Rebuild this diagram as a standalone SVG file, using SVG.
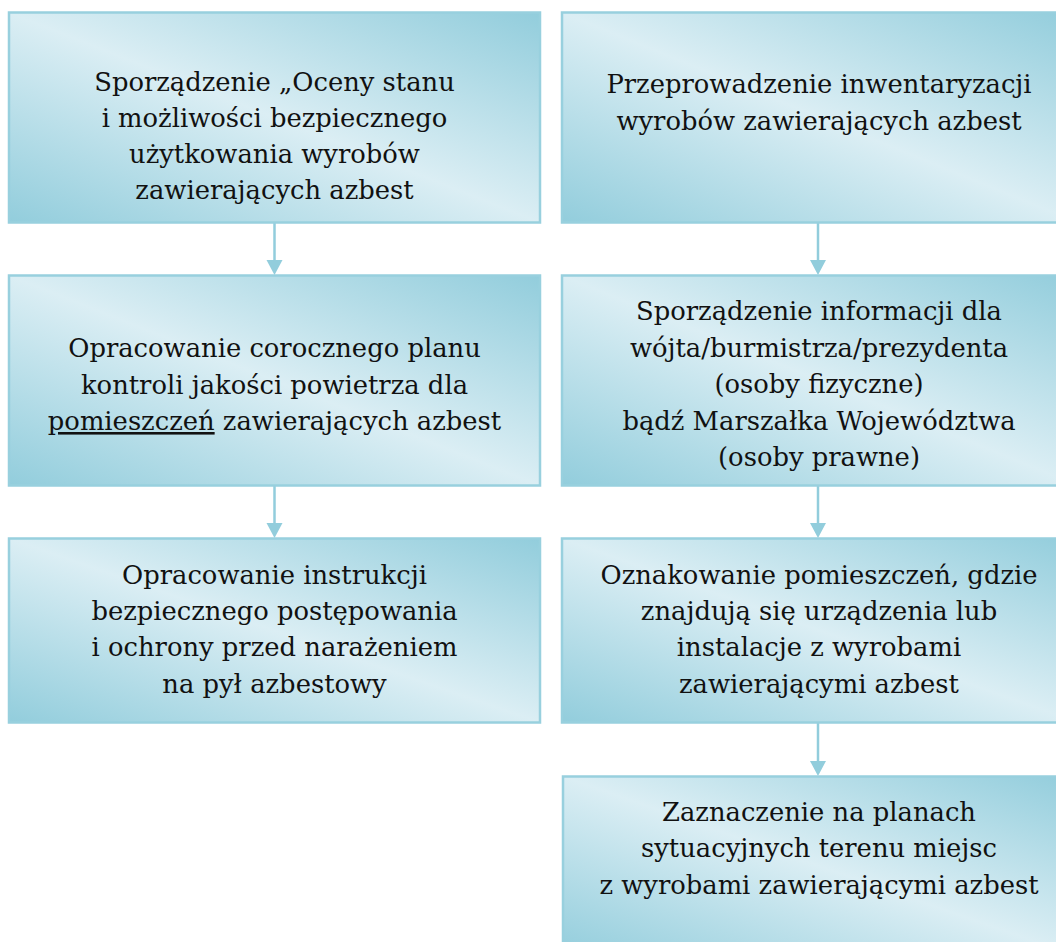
<svg xmlns="http://www.w3.org/2000/svg" width="1056" height="942" viewBox="0 0 1056 942">
<style>
.box{fill:url(#g);stroke:#98d0de;stroke-width:2.5}
.t{font-family:"DejaVu Serif","Liberation Serif",serif;font-size:25.8px;fill:#111;text-anchor:middle}
.c{stroke:#92cddc;stroke-width:2.5;fill:none}
.ah{fill:#92cddc}
</style>
<defs>
<linearGradient id="g" x1="1" y1="0" x2="0" y2="1">
<stop offset="0" stop-color="#92cddc"/>
<stop offset="0.5" stop-color="#dbeef4"/>
<stop offset="1" stop-color="#92cddc"/>
</linearGradient>
</defs>
<rect width="1056" height="942" fill="#fff"/>
<g id="connectors">
<line class="c" x1="274.5" y1="222" x2="274.5" y2="262"/>
<polygon class="ah" points="266.5,260 282.5,260 274.5,275"/>
<line class="c" x1="274.5" y1="485" x2="274.5" y2="525"/>
<polygon class="ah" points="266.5,523 282.5,523 274.5,538"/>
<line class="c" x1="818" y1="222" x2="818" y2="262"/>
<polygon class="ah" points="810,260 826,260 818,275"/>
<line class="c" x1="818" y1="485" x2="818" y2="525"/>
<polygon class="ah" points="810,523 826,523 818,538"/>
<line class="c" x1="818" y1="723" x2="818" y2="763"/>
<polygon class="ah" points="810,761 826,761 818,776"/>
</g>
<g id="n1">
<rect class="box" x="9" y="12.5" width="531" height="210"/>
<text class="t" x="274.5" y="91">Sporządzenie „Oceny stanu</text>
<text class="t" x="274.5" y="127">i możliwości bezpiecznego</text>
<text class="t" x="274.5" y="163">użytkowania wyrobów</text>
<text class="t" x="274.5" y="199">zawierających azbest</text>
</g>
<g id="n2">
<rect class="box" x="9" y="275.5" width="531" height="210"/>
<text class="t" x="274.5" y="357">Opracowanie corocznego planu</text>
<text class="t" x="274.5" y="394">kontroli jakości powietrza dla</text>
<text class="t" x="274.5" y="430"><tspan text-decoration="underline">pomieszczeń</tspan> zawierających azbest</text>
</g>
<g id="n3">
<rect class="box" x="9" y="538.5" width="531" height="184"/>
<text class="t" x="274.5" y="584">Opracowanie instrukcji</text>
<text class="t" x="274.5" y="620">bezpiecznego postępowania</text>
<text class="t" x="274.5" y="656">i ochrony przed narażeniem</text>
<text class="t" x="274.5" y="693">na pył azbestowy</text>
</g>
<g id="n4">
<rect class="box" x="562" y="12.5" width="516" height="210"/>
<text class="t" x="819" y="93">Przeprowadzenie inwentaryzacji</text>
<text class="t" x="819" y="130">wyrobów zawierających azbest</text>
</g>
<g id="n5">
<rect class="box" x="562" y="275.5" width="516" height="210"/>
<text class="t" x="819" y="320">Sporządzenie informacji dla</text>
<text class="t" x="819" y="357">wójta/burmistrza/prezydenta</text>
<text class="t" x="819" y="393">(osoby fizyczne)</text>
<text class="t" x="819" y="430">bądź Marszałka Województwa</text>
<text class="t" x="819" y="466">(osoby prawne)</text>
</g>
<g id="n6">
<rect class="box" x="562" y="538.5" width="516" height="184"/>
<text class="t" x="819" y="584">Oznakowanie pomieszczeń, gdzie</text>
<text class="t" x="819" y="620">znajdują się urządzenia lub</text>
<text class="t" x="819" y="656">instalacje z wyrobami</text>
<text class="t" x="819" y="693">zawierającymi azbest</text>
</g>
<g id="n7">
<rect class="box" x="563" y="776.5" width="515" height="180"/>
<text class="t" x="819" y="821">Zaznaczenie na planach</text>
<text class="t" x="819" y="857">sytuacyjnych terenu miejsc</text>
<text class="t" x="819" y="894">z wyrobami zawierającymi azbest</text>
</g>
</svg>
